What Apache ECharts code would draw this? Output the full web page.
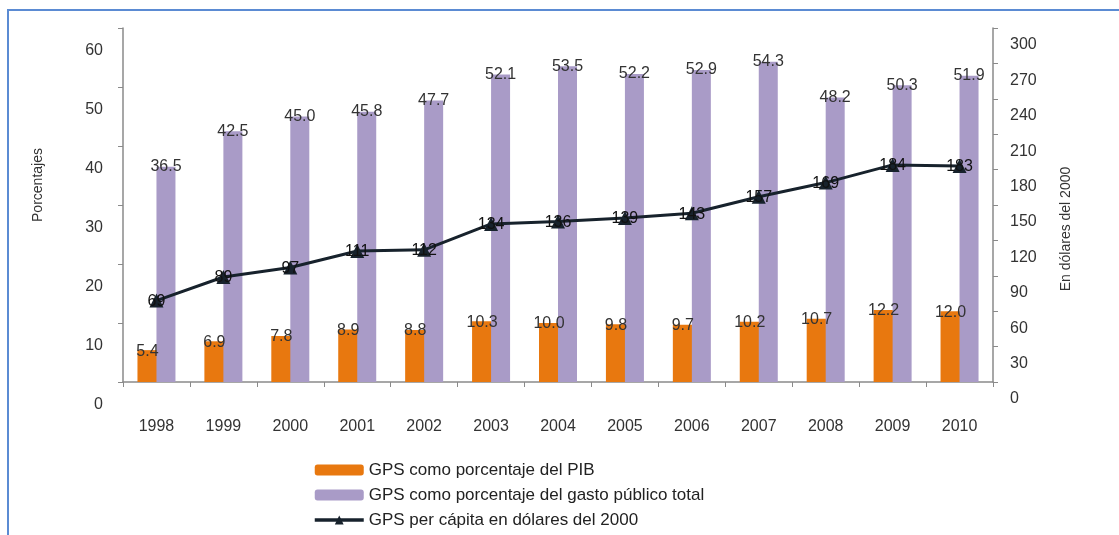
<!DOCTYPE html>
<html>
<head>
<meta charset="utf-8">
<script src="https://cdn.jsdelivr.net/npm/echarts@6/dist/echarts.min.js"></script>
<style>
html,body{margin:0;padding:0;background:#fff;}
#chart{width:1119px;height:535px;}
</style>
</head>
<body>
<div id="chart"></div>
<script>
const years = ['1998','1999','2000','2001','2002','2003','2004','2005','2006','2007','2008','2009','2010'];
const gpsPIB = [5.4, 6.9, 7.8, 8.9, 8.8, 10.3, 10.0, 9.8, 9.7, 10.2, 10.7, 12.2, 12.0];
const gpsGastoPublico = [36.5, 42.5, 45.0, 45.8, 47.7, 52.1, 53.5, 52.2, 52.9, 54.3, 48.2, 50.3, 51.9];
const gpsPerCapita = [69, 89, 97, 111, 112, 134, 136, 139, 143, 157, 169, 184, 183];
const seriesNames = ['GPS como porcentaje del PIB', 'GPS como porcentaje del gasto público total', 'GPS per cápita en dólares del 2000'];
const leftAxisName = 'Porcentajes';
const rightAxisName = 'En dólares del 2000';

const chart = echarts.init(document.getElementById('chart'));
const font = 'Liberation Sans, Arial, sans-serif';
const axisGray = '#8a8a8a';
chart.setOption({
  animation: false,
  textStyle: { fontFamily: font },
  graphic: [{
    type: 'rect',
    shape: { x: 8, y: 10, width: 1130, height: 560 },
    style: { fill: 'none', stroke: '#5b8bd3', lineWidth: 2 },
    silent: true
  }],
  grid: { left: 123, right: 126, top: 28, bottom: 153 },
  legend: {
    orient: 'vertical',
    left: 313,
    top: 461,
    padding: 0,
    itemWidth: 49,
    itemHeight: 11,
    itemGap: 7,
    textStyle: { fontSize: 17, color: '#222', fontFamily: font, lineHeight: 18 },
    data: [
      { name: seriesNames[0] },
      { name: seriesNames[1] },
      { name: seriesNames[2], lineStyle: { width: 3.5, color: '#17222c' }, itemStyle: { color: '#17222c' } }
    ]
  },
  xAxis: {
    type: 'category',
    data: years,
    axisLine: { lineStyle: { color: axisGray, width: 1.5 } },
    axisTick: { show: true, length: 5, lineStyle: { color: axisGray } },
    axisLabel: { color: '#333', fontSize: 16, margin: 37, fontFamily: font }
  },
  yAxis: [{
    type: 'value',
    min: 0, max: 60, interval: 10,
    name: leftAxisName,
    nameLocation: 'middle',
    nameGap: 78,
    nameRotate: 90,
    nameTextStyle: { fontSize: 14, color: '#333', fontFamily: font, padding: [0, 0, 0, 40] },
    axisLine: { show: true, lineStyle: { color: axisGray, width: 1.5 } },
    axisTick: { show: true, length: 5, lineStyle: { color: axisGray } },
    splitLine: { show: false },
    axisLabel: { color: '#333', fontSize: 16, margin: 20, verticalAlign: 'top', lineHeight: 46, fontFamily: font, showMinLabel: true, showMaxLabel: true, hideOverlap: false }
  }, {
    type: 'value',
    min: 0, max: 300, interval: 30,
    name: rightAxisName,
    nameLocation: 'middle',
    nameGap: 66,
    nameRotate: 90,
    nameTextStyle: { fontSize: 14, color: '#333', fontFamily: font, padding: [0, 48, 0, 0] },
    axisLine: { show: true, lineStyle: { color: axisGray, width: 1.5 } },
    axisTick: { show: true, length: 5, lineStyle: { color: axisGray } },
    splitLine: { show: false },
    axisLabel: { color: '#333', fontSize: 16, margin: 17, verticalAlign: 'top', lineHeight: 34, fontFamily: font, showMinLabel: true, showMaxLabel: true, hideOverlap: false }
  }],
  series: [{
    name: seriesNames[0],
    type: 'bar',
    data: gpsPIB,
    barWidth: 20,
    barGap: '-5%',
    itemStyle: { color: '#e8780f' },
    label: {
      show: true, position: 'top', distance: -9,
      formatter: p => p.value.toFixed(1),
      color: '#333', fontSize: 16, fontFamily: font
    }
  }, {
    name: seriesNames[1],
    type: 'bar',
    data: gpsGastoPublico,
    barWidth: 19,
    itemStyle: { color: '#a99bc7' },
    label: {
      show: true, position: 'top', distance: -8,
      formatter: p => p.value.toFixed(1),
      color: '#333', fontSize: 16, fontFamily: font
    }
  }, {
    name: seriesNames[2],
    type: 'line',
    yAxisIndex: 1,
    data: gpsPerCapita,
    symbol: 'triangle',
    symbolSize: 14,
    lineStyle: { color: '#17222c', width: 3 },
    itemStyle: { color: '#17222c' },
    label: {
      show: true, position: 'top', distance: -16,
      color: '#111', fontSize: 16, fontFamily: font
    },
    z: 5
  }]
});
</script>
</body>
</html>
